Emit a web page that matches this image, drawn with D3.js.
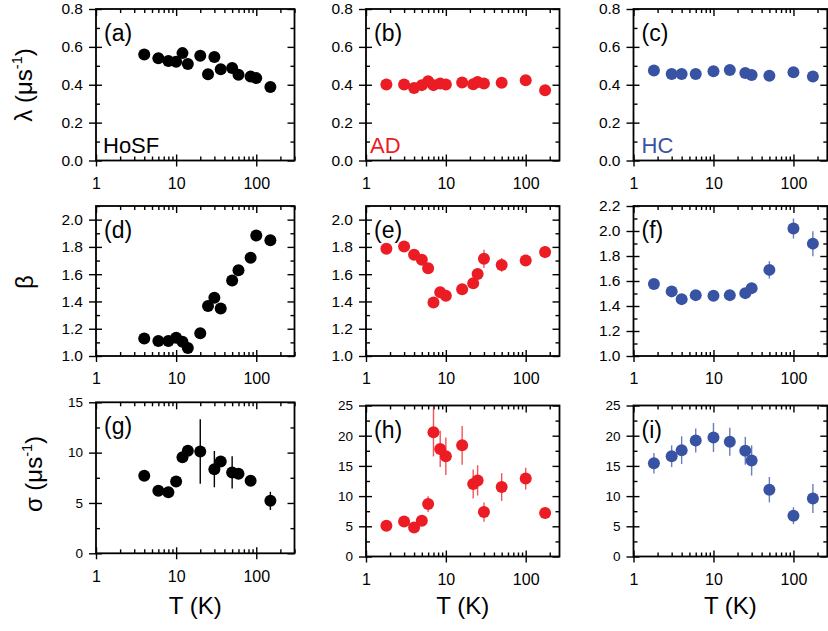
<!DOCTYPE html>
<html>
<head>
<meta charset="utf-8">
<script src="https://cdn.jsdelivr.net/npm/d3@7"></script>
<style>
  body { margin: 0; background: #fff; }
  svg { display: block; font-family: "Liberation Sans", Arial, sans-serif; }
</style>
</head>
<body>
<svg id="chart"></svg>
<script>
// Data
const tHoSF = [4, 6, 8, 10, 12, 14, 20, 25, 30, 36, 50, 60, 85, 100, 150];
const lambdaHoSF = [0.56, 0.54, 0.526, 0.521, 0.567, 0.509, 0.553, 0.455, 0.546, 0.482, 0.488, 0.453, 0.444, 0.435, 0.388];
const betaHoSF = [1.129, 1.11, 1.11, 1.134, 1.105, 1.059, 1.166, 1.366, 1.427, 1.349, 1.554, 1.629, 1.72, 1.883, 1.849];
const betaHoSFErr = [0.01, 0.01, 0.01, 0.01, 0.01, 0.01, 0.035, 0.02, 0.02, 0.02, 0.02, 0.02, 0.02, 0.035, 0.02];
const tHoSFSigma = [4, 6, 8, 10, 12, 14, 20, 30, 36, 50, 60, 85, 150];
const sigmaHoSF = [7.7, 6.21, 6.07, 7.14, 9.53, 10.19, 10.12, 8.36, 9.13, 8.03, 7.9, 7.2, 5.21];
const sigmaHoSFErr = [0.3, 0.3, 0.3, 0.3, 0.3, 0.3, 3.2, 1.8, 0.4, 1.6, 0.4, 0.4, 0.9];

const tAD = [1.8, 3, 4, 5, 6, 7, 8.5, 10, 16, 22, 25, 30, 50, 100, 175];
const lambdaAD = [0.401, 0.401, 0.383, 0.398, 0.419, 0.398, 0.406, 0.401, 0.412, 0.403, 0.415, 0.406, 0.41, 0.424, 0.371];
const betaAD = [1.786, 1.803, 1.742, 1.705, 1.644, 1.393, 1.467, 1.442, 1.489, 1.533, 1.602, 1.713, 1.668, 1.70, 1.762];
const betaADErr = [0.03, 0.02, 0.03, 0.03, 0.03, 0.04, 0.04, 0.04, 0.04, 0.04, 0.04, 0.067, 0.05, 0.03, 0.045];
const sigmaAD = [5.09, 5.81, 4.81, 5.92, 8.68, 20.57, 17.8, 16.6, 18.4, 12.0, 12.6, 7.36, 11.5, 12.9, 7.19];
const sigmaADErr = [0.5, 0.6, 0.6, 0.7, 1.3, 4.0, 3.0, 3.1, 3.2, 2.4, 2.5, 1.6, 2.3, 1.8, 0.8];

const tHC = [1.8, 3, 4, 6, 10, 16, 25, 30, 50, 100, 175];
const lambdaHC = [0.475, 0.457, 0.457, 0.457, 0.471, 0.478, 0.462, 0.452, 0.448, 0.466, 0.444];
const betaHC = [1.576, 1.517, 1.455, 1.487, 1.482, 1.487, 1.503, 1.543, 1.689, 2.02, 1.899];
const betaHCErr = [0.02, 0.02, 0.02, 0.02, 0.02, 0.02, 0.02, 0.03, 0.07, 0.08, 0.1];
const sigmaHC = [15.43, 16.6, 17.6, 19.2, 19.7, 19.0, 17.5, 15.9, 11.06, 6.75, 9.62];
const sigmaHCErr = [1.7, 1.8, 2.3, 2.0, 2.4, 2.3, 2.3, 2.5, 2.1, 1.4, 2.4];

const xTicks = [1, 10, 100];
const lambdaTicks = [0, 0.2, 0.4, 0.6, 0.8];
const betaTicks = [1.0, 1.2, 1.4, 1.6, 1.8, 2.0];
const betaHCTicks = [1.0, 1.2, 1.4, 1.6, 1.8, 2.0, 2.2];
const sigmaHoSFTicks = [0, 5, 10, 15];
const sigmaTicks = [0, 5, 10, 15, 20, 25];

// Configurations
const width = 828, height = 631;
const black = "#000000", red = "#ec1c24", blue = "#3953a4";
const radius = 6;
const font = "'Liberation Sans', Arial, sans-serif";

const columns = [
  {left: 96, right: 294.5, xMax: 300, color: black, name: "HoSF", nameDx: 7},
  {left: 366, right: 559.5, xMax: 265, color: red, name: "AD", nameDx: 4},
  {left: 633.5, right: 827.3, xMax: 265, color: blue, name: "HC", nameDx: 8}
];
const rows = [
  {top: 9, bottom: 160.5},
  {top: 206, bottom: 356},
  {top: 405.5, bottom: 556.5}
];

const panels = [
  {col: 0, row: 0, label: "(a)", t: tHoSF, v: lambdaHoSF, domain: [0, 0.8], ticks: lambdaTicks, minor: 0.1, fmt: ".1f"},
  {col: 1, row: 0, label: "(b)", t: tAD, v: lambdaAD, domain: [0, 0.8], ticks: lambdaTicks, minor: 0.1, fmt: ".1f"},
  {col: 2, row: 0, label: "(c)", t: tHC, v: lambdaHC, domain: [0, 0.8], ticks: lambdaTicks, minor: 0.1, fmt: ".1f"},
  {col: 0, row: 1, label: "(d)", t: tHoSF, v: betaHoSF, e: betaHoSFErr, domain: [1, 2.1], ticks: betaTicks, minor: 0.1, fmt: ".1f"},
  {col: 1, row: 1, label: "(e)", t: tAD, v: betaAD, e: betaADErr, domain: [1, 2.1], ticks: betaTicks, minor: 0.1, fmt: ".1f"},
  {col: 2, row: 1, label: "(f)", t: tHC, v: betaHC, e: betaHCErr, domain: [1, 2.2], ticks: betaHCTicks, minor: 0.1, fmt: ".1f"},
  {col: 0, row: 2, label: "(g)", t: tHoSFSigma, v: sigmaHoSF, e: sigmaHoSFErr, domain: [0, 15], ticks: sigmaHoSFTicks, minor: 2.5, fmt: "d", shift: -3.2, small: true},
  {col: 1, row: 2, label: "(h)", t: tAD, v: sigmaAD, e: sigmaADErr, domain: [0, 25], ticks: sigmaTicks, minor: 2.5, fmt: "d", small: true},
  {col: 2, row: 2, label: "(i)", t: tHC, v: sigmaHC, e: sigmaHCErr, domain: [0, 25], ticks: sigmaTicks, minor: 2.5, fmt: "d", small: true}
];

const svg = d3.select("#chart")
  .attr("width", width)
  .attr("height", height)
  .attr("viewBox", [0, 0, width, height]);

panels.forEach(p => {
  const c = columns[p.col], r = rows[p.row];
  const top = r.top + (p.shift || 0), bottom = r.bottom + (p.shift || 0);
  const x = d3.scaleLog([1, c.xMax], [c.left, c.right]);
  const y = d3.scaleLinear(p.domain, [bottom, top]);

  const xMinor = [];
  [1, 10, 100].forEach(d => d3.range(2, 10).forEach(k => { if (d * k <= c.xMax) xMinor.push(d * k); }));
  const yMinor = d3.range(p.domain[0], p.domain[1] + 1e-9, p.minor)
    .filter(v => !p.ticks.some(t => Math.abs(t - v) < 1e-9));

  const g = svg.append("g")
    .attr("stroke-linecap", "butt");

  const clean = sel => sel.call(s => s.select(".domain").remove())
    .call(s => s.selectAll(".tick line").attr("stroke", "#000").attr("stroke-width", 1.4));

  // left: outward majors with labels, inward majors + minors
  g.append("g").attr("transform", `translate(${c.left},0)`)
    .call(d3.axisLeft(y).tickValues(p.ticks).tickSize(7).tickPadding(6).tickFormat(d3.format(p.fmt)))
    .call(clean)
    .call(s => s.selectAll("text").attr("font-size", p.small ? 13.5 : 15.5).attr("fill", "#000")
      .attr("font-family", font));
  g.append("g").attr("transform", `translate(${c.left},0)`)
    .call(d3.axisLeft(y).tickValues(p.ticks).tickSize(-6).tickFormat(""))
    .call(clean);
  g.append("g").attr("transform", `translate(${c.left},0)`)
    .call(d3.axisLeft(y).tickValues(yMinor).tickSize(-4).tickFormat(""))
    .call(clean);

  // right: inward
  g.append("g").attr("transform", `translate(${c.right},0)`)
    .call(d3.axisRight(y).tickValues(p.ticks).tickSize(-7).tickFormat(""))
    .call(clean);
  g.append("g").attr("transform", `translate(${c.right},0)`)
    .call(d3.axisRight(y).tickValues(yMinor).tickSize(-4).tickFormat(""))
    .call(clean);

  // bottom: outward majors with labels, inward majors + minors
  g.append("g").attr("transform", `translate(0,${bottom})`)
    .call(d3.axisBottom(x).tickValues(xTicks).tickSize(6).tickPadding(11).tickFormat(d => d))
    .call(clean)
    .call(s => s.selectAll("text").attr("font-size", 16).attr("fill", "#000")
      .attr("font-family", font));
  g.append("g").attr("transform", `translate(0,${bottom})`)
    .call(d3.axisBottom(x).tickValues(xTicks).tickSize(-6).tickFormat(""))
    .call(clean);
  g.append("g").attr("transform", `translate(0,${bottom})`)
    .call(d3.axisBottom(x).tickValues(xMinor).tickSize(-4).tickFormat(""))
    .call(clean);

  // top: inward
  g.append("g").attr("transform", `translate(0,${top})`)
    .call(d3.axisTop(x).tickValues(xTicks).tickSize(-7).tickFormat(""))
    .call(clean);
  g.append("g").attr("transform", `translate(0,${top})`)
    .call(d3.axisTop(x).tickValues(xMinor).tickSize(-4).tickFormat(""))
    .call(clean);

  // frame
  g.append("rect")
    .attr("x", c.left).attr("y", top)
    .attr("width", c.right - c.left).attr("height", bottom - top)
    .attr("fill", "none").attr("stroke", "#000").attr("stroke-width", 1.8);

  const idx = d3.range(p.t.length);

  if (p.e) {
    g.append("g")
      .attr("stroke", c.color)
      .attr("stroke-opacity", c.color === black ? 1 : 0.75)
      .attr("stroke-width", 1.4)
      .selectAll("line")
      .data(idx)
      .join("line")
      .attr("x1", i => x(p.t[i]))
      .attr("x2", i => x(p.t[i]))
      .attr("y1", i => y(Math.min(p.domain[1], p.v[i] + p.e[i])))
      .attr("y2", i => y(p.v[i] - p.e[i]));
  }

  g.append("g")
    .attr("fill", c.color)
    .selectAll("circle")
    .data(idx)
    .join("circle")
    .attr("cx", i => x(p.t[i]))
    .attr("cy", i => y(p.v[i]))
    .attr("r", radius);

  g.append("text")
    .attr("x", c.left + 8)
    .attr("y", top + 32)
    .attr("font-size", 23)
    .attr("fill", "#000")
    .text(p.label);

  if (p.row === 0) {
    g.append("text")
      .attr("x", c.left + c.nameDx)
      .attr("y", bottom - 8)
      .attr("font-size", 22)
      .attr("fill", c.color)
      .text(c.name);
  }

  if (p.row === 2) {
    g.append("text")
      .attr("x", (c.left + c.right) / 2)
      .attr("y", 614)
      .attr("text-anchor", "middle")
      .attr("font-size", 24)
      .attr("fill", "#000")
      .text("T (K)");
  }
});

// y-axis titles
function yTitle(txt, bx, cy, sup) {
  const t = svg.append("text")
    .attr("transform", `translate(${bx},${cy}) rotate(-90)`)
    .attr("text-anchor", "middle")
    .attr("font-size", 24)
    .attr("fill", "#000")
    .text(txt);
  if (sup) {
    t.append("tspan").attr("font-size", 14.5).attr("dy", -10).text("-1");
    t.append("tspan").attr("dy", 10).text(")");
  }
}
yTitle("λ (μs", 32, 85, true);
yTitle("β", 33, 282, false);
yTitle("σ (μs", 42, 474, true);
</script>
</body>
</html>
